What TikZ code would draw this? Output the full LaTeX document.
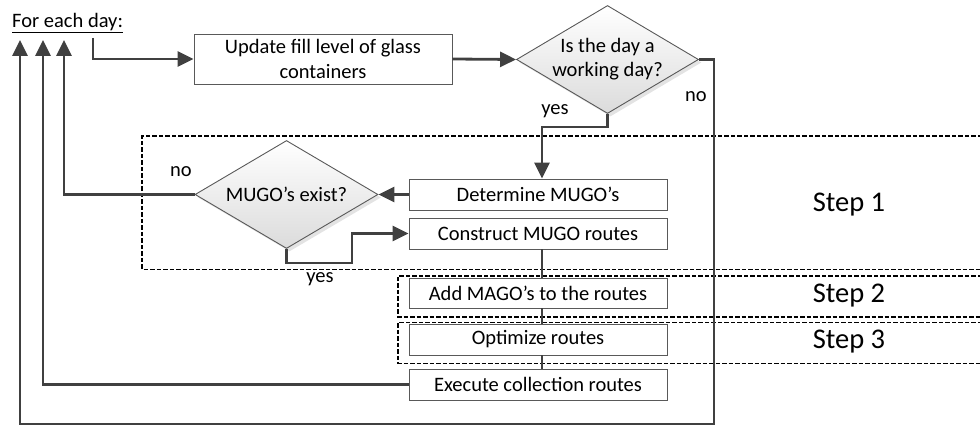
\documentclass[tikz,border=0pt]{standalone}
\usepackage{fontspec}
\setmainfont{Carlito}
\usetikzlibrary{shapes.geometric,arrows.meta,shadows,calc}
\definecolor{lin}{RGB}{64,64,64}
\definecolor{bord}{RGB}{89,89,89}
\tikzset{
  boxn/.style={draw=bord,line width=0.9pt,fill=white,minimum width=258pt,minimum height=31pt,inner sep=0pt,font=\fontsize{20.5pt}{24pt}\selectfont},
  decn/.style={diamond,draw=bord,line width=0.9pt,inner sep=0pt,minimum width=182pt,minimum height=108pt,aspect=1.68,
    top color=white,bottom color=black!14,drop shadow={shadow xshift=3pt,shadow yshift=-3pt,fill=black!22,opacity=0.5},
    font=\fontsize{20.5pt}{24pt}\selectfont,align=center},
  lbl/.style={font=\fontsize{20.5pt}{24pt}\selectfont,inner sep=0pt},
  stepl/.style={font=\fontsize{28.5pt}{32pt}\selectfont,inner sep=0pt},
  arr/.style={draw=lin,line width=2.8pt,-{Triangle[length=16pt,width=15pt]}},
  conn/.style={draw=lin,line width=2.2pt},
  dashbox/.style={draw=black,line width=1.8pt,dash pattern=on 4.5pt off 2pt}
}
\begin{document}
\begin{tikzpicture}[x=1pt,y=-1pt]
\useasboundingbox (0,0) rectangle (980,427);
\clip (0,0) rectangle (980,427);
% dashed step regions
\draw[dashbox] (995,136) -- (142,136) -- (142,269.5) -- (995,269.5);
\draw[dashbox] (995,276) -- (398,276) -- (398,317) -- (995,317);
\draw[dashbox] (995,322.5) -- (398,322.5) -- (398,363.5) -- (995,363.5);
\node[stepl] (s1) at (849,205) {Step 1};
\node[stepl] (s2) at (849,296) {Step 2};
\node[stepl] (s3) at (849,342) {Step 3};
% nodes
\node[lbl,anchor=west] (fed) at (12,23) {\underline{For each day:}};
\node[boxn,minimum height=50pt,align=center,font=\fontsize{20.5pt}{25pt}\selectfont] (upd) at (323,59) {Update fill level of glass\\containers};
\node[decn] (wd) at (607.5,59.5) {Is the day a\\working day?};
\node[boxn] (det) at (538,194.5) {Determine MUGO’s};
\node[boxn] (con) at (538,233.5) {Construct MUGO routes};
\node[boxn,minimum height=30pt] (add) at (538,293) {Add MAGO’s to the routes};
\node[boxn] (opt) at (538,339.5) {Optimize routes};
\node[boxn] (exe) at (538,384.5) {Execute collection routes};
\node[decn,minimum width=183pt] (mugo) at (286.5,194.5) {MUGO’s exist?};
% labels
\node[lbl] (yes1) at (555,111) {yes};
\node[lbl] (no1) at (696,97) {no};
\node[lbl] (no2) at (181,172) {no};
\node[lbl] (yes2) at (320,279) {yes};
% coordinates
\coordinate (start) at (93,38);
\coordinate (spine) at (542,0);
\coordinate (t1) at (20,40);
\coordinate (t2) at (43,40);
\coordinate (t3) at (64,40);
\coordinate (c1) at (714,424);
\coordinate (j1) at (352,263);
\coordinate (j2) at (542,127);
% connectors
\draw[arr] (start) |- (upd.west);
\draw[arr] (upd.east) -- (wd.west);
\draw[arr] (wd.south) |- (j2) -- (det.north -| spine);
\draw[arr] (det.west) -- (mugo.east);
\draw[arr] (mugo.south) |- (j1) |- (con.west);
\draw[arr] (mugo.west) -| (t3);
\draw[arr] (exe.west) -| (t2);
\draw[arr] (wd.east) -| (c1) -| (t1);
\draw[conn] (con.south -| spine) -- (add.north -| spine);
\draw[conn] (add.south -| spine) -- (opt.north -| spine);
\draw[conn] (opt.south -| spine) -- (exe.north -| spine);
\end{tikzpicture}
\end{document}
